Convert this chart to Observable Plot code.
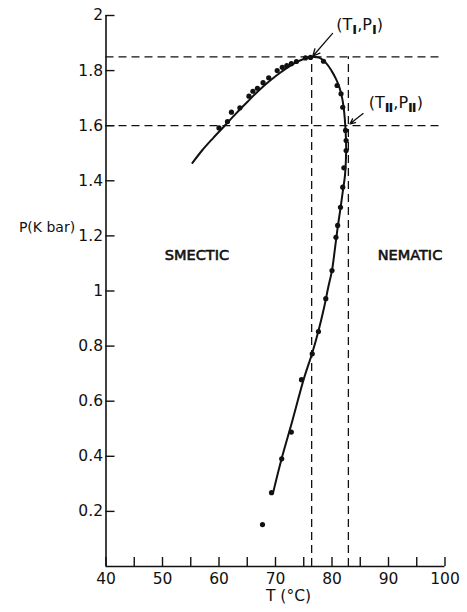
<!DOCTYPE html>
<html>
<head>
<meta charset="utf-8">
<script src="https://cdn.jsdelivr.net/npm/d3@7"></script>
<script src="https://cdn.jsdelivr.net/npm/@observablehq/plot@0.6"></script>
<style>
  body { margin: 0; background: #fff; }
  svg { display: block; }
</style>
</head>
<body>
<div id="chart"></div>
<script>
// Measured points (T in °C, P in kbar)
const dotT = [60.0, 61.5, 62.2, 63.7, 65.3, 66.0, 66.8, 67.8, 68.8, 70.3, 71.2, 72.0, 72.8, 73.7, 75.3, 76.2, 78.5, 80.9, 81.6, 81.9, 82.4, 82.5, 82.5, 82.1, 81.9, 81.5, 81.0, 80.7, 80.0, 78.9, 77.6, 76.5, 74.6, 72.8, 71.1, 69.3, 67.7];
const dotP = [1.592, 1.615, 1.649, 1.665, 1.707, 1.725, 1.736, 1.756, 1.774, 1.800, 1.812, 1.818, 1.825, 1.833, 1.846, 1.848, 1.834, 1.746, 1.716, 1.667, 1.583, 1.546, 1.51, 1.447, 1.377, 1.304, 1.238, 1.195, 1.074, 0.972, 0.853, 0.772, 0.678, 0.488, 0.391, 0.268, 0.152];

// Fitted phase boundary curve
const curveT = [55.3, 57, 59, 61, 63, 65, 67, 69, 71, 73, 75, 76.4, 77.8, 79, 79.9, 80.7, 81.3, 81.8, 82.15, 82.35, 82.5, 82.45, 82.3, 81.9, 81.5, 81.0, 80.5, 80.0, 79.3, 78.6, 77.6, 76.5, 75.0, 73, 71, 69.6];
const curveP = [1.465, 1.51, 1.556, 1.60, 1.644, 1.686, 1.727, 1.763, 1.795, 1.823, 1.842, 1.849, 1.846, 1.826, 1.80, 1.77, 1.74, 1.70, 1.65, 1.60, 1.53, 1.47, 1.42, 1.36, 1.30, 1.23, 1.15, 1.075, 1.01, 0.94, 0.855, 0.775, 0.68, 0.53, 0.385, 0.27];

// Special points (T_I, P_I) and (T_II, P_II)
const specialT = [76.4, 82.9];
const specialP = [1.85, 1.6];

// Axis ticks
const xTicksMajor = [40, 50, 60, 70, 80, 90, 100];
const xTicksMinor = [40, 45, 50, 55, 60, 65, 70, 75, 80, 85, 90, 95, 100];
const yTicks = [0.2, 0.4, 0.6, 0.8, 1, 1.2, 1.4, 1.6, 1.8, 2];

// Texts
const xLabel = "T (°C)";
const yLabel = "P(K bar)";
const phaseNames = ["SMECTIC", "NEMATIC"];
const pointNames = ["(T_I,P_I)", "(T_II,P_II)"];

const dots = dotT.map((t, i) => ({T: t, P: dotP[i]}));
const curve = curveT.map((t, i) => ({T: t, P: curveP[i]}));

// annotation placement (data coordinates)
const phasePos = [{T: 56.1, P: 1.129}, {T: 93.8, P: 1.129}];
const pointLabelPos = [{T: 84.9, P: 1.966}, {T: 91.3, P: 1.682}];
const arrowData = [
  {x1: 80.1, y1: 1.935, x2: 76.6, y2: 1.852},
  {x1: 85.5, y1: 1.644, x2: 83.2, y2: 1.607}
];

const hDash = specialP.map(p => ({P: p}));
const vDash = specialT.map(t => ({T: t}));

const font = "DejaVu Sans";
const dash = "8,5";
const ink = "#111";

const chart = Plot.plot({
  width: 467,
  height: 612,
  marginLeft: 105.5,
  marginRight: 22.5,
  marginTop: 15,
  marginBottom: 46,
  style: {fontFamily: font, fontSize: "15px", color: ink, background: "#fff"},
  x: {domain: [40, 100], label: null},
  y: {domain: [0, 2], label: null},
  marks: [
    // dashed guide lines
    Plot.ruleY(hDash, {y: "P", x1: 40, x2: 99.5, stroke: ink, strokeWidth: 1.3, strokeDasharray: dash}),
    Plot.ruleX(vDash, {x: "T", y1: 0, y2: specialP[0], stroke: ink, strokeWidth: 1.3, strokeDasharray: dash}),
    // axes lines
    Plot.ruleX([40], {y1: 0, y2: 2, stroke: ink, strokeWidth: 1.6}),
    Plot.ruleY([0], {x1: 40, x2: 100, stroke: ink, strokeWidth: 1.6}),
    // y axis
    Plot.axisY(yTicks, {tickSize: -9, tickPadding: 12, strokeWidth: 1.4, tickFormat: d => String(d), fontSize: 15.5, stroke: ink, label: null}),
    // x axis
    Plot.axisX(xTicksMinor, {tickSize: -9, strokeWidth: 1.4, tickFormat: () => "", label: null}),
    Plot.axisX(xTicksMajor, {tickSize: 0, tickPadding: 6, fontSize: 15.5, label: null}),
    // curve and data
    Plot.line(curve, {x: "T", y: "P", curve: "catmull-rom", stroke: ink, strokeWidth: 2}),
    Plot.dot(dots, {x: "T", y: "P", r: 2.6, fill: ink, stroke: "none"}),
    // arrows
    Plot.arrow(arrowData, {x1: "x1", y1: "y1", x2: "x2", y2: "y2", stroke: ink, strokeWidth: 1.3, headLength: 9, headAngle: 50}),
    // labels
    Plot.text(phaseNames, {x: (d, i) => phasePos[i].T, y: (d, i) => phasePos[i].P, text: d => d, fontSize: 14.5, fill: ink, stroke: ink, strokeWidth: 0.6, textAnchor: "middle", letterSpacing: "1.6px"}),
    Plot.text(pointNames, {x: (d, i) => pointLabelPos[i].T, y: (d, i) => pointLabelPos[i].P, text: d => d, fontSize: 16, fill: ink, textAnchor: "middle"}),
    Plot.text([xLabel], {frameAnchor: "bottom", textAnchor: "middle", lineAnchor: "middle", dx: 13, dy: 30, text: d => d, fontSize: 15.5, fill: ink}),
    Plot.text([yLabel], {frameAnchor: "left", textAnchor: "middle", lineAnchor: "middle", dx: -59, dy: -63, text: d => d, fontSize: 14, fill: ink})
  ]
});

// Render subscripts (Roman numerals) for the (T_I,P_I) style labels
const subMap = {I: "\u2160", II: "\u2161"};
chart.querySelectorAll("text").forEach(t => {
  const s = t.textContent;
  if (!s.includes("_")) return;
  while (t.firstChild) t.removeChild(t.firstChild);
  const parts = s.split(/_(II|I)/);
  const ns = "http://www.w3.org/2000/svg";
  parts.forEach((p, i) => {
    if (p === "") return;
    const ts = document.createElementNS(ns, "tspan");
    if (i % 2 === 1) {
      ts.textContent = subMap[p];
      ts.setAttribute("dy", "4");
      ts.setAttribute("font-size", "13");
      ts.setAttribute("font-weight", "bold");
    } else {
      ts.textContent = p;
      if (i > 0) ts.setAttribute("dy", "-4");
    }
    t.appendChild(ts);
  });
});

document.getElementById("chart").appendChild(chart);
</script>
</body>
</html>
